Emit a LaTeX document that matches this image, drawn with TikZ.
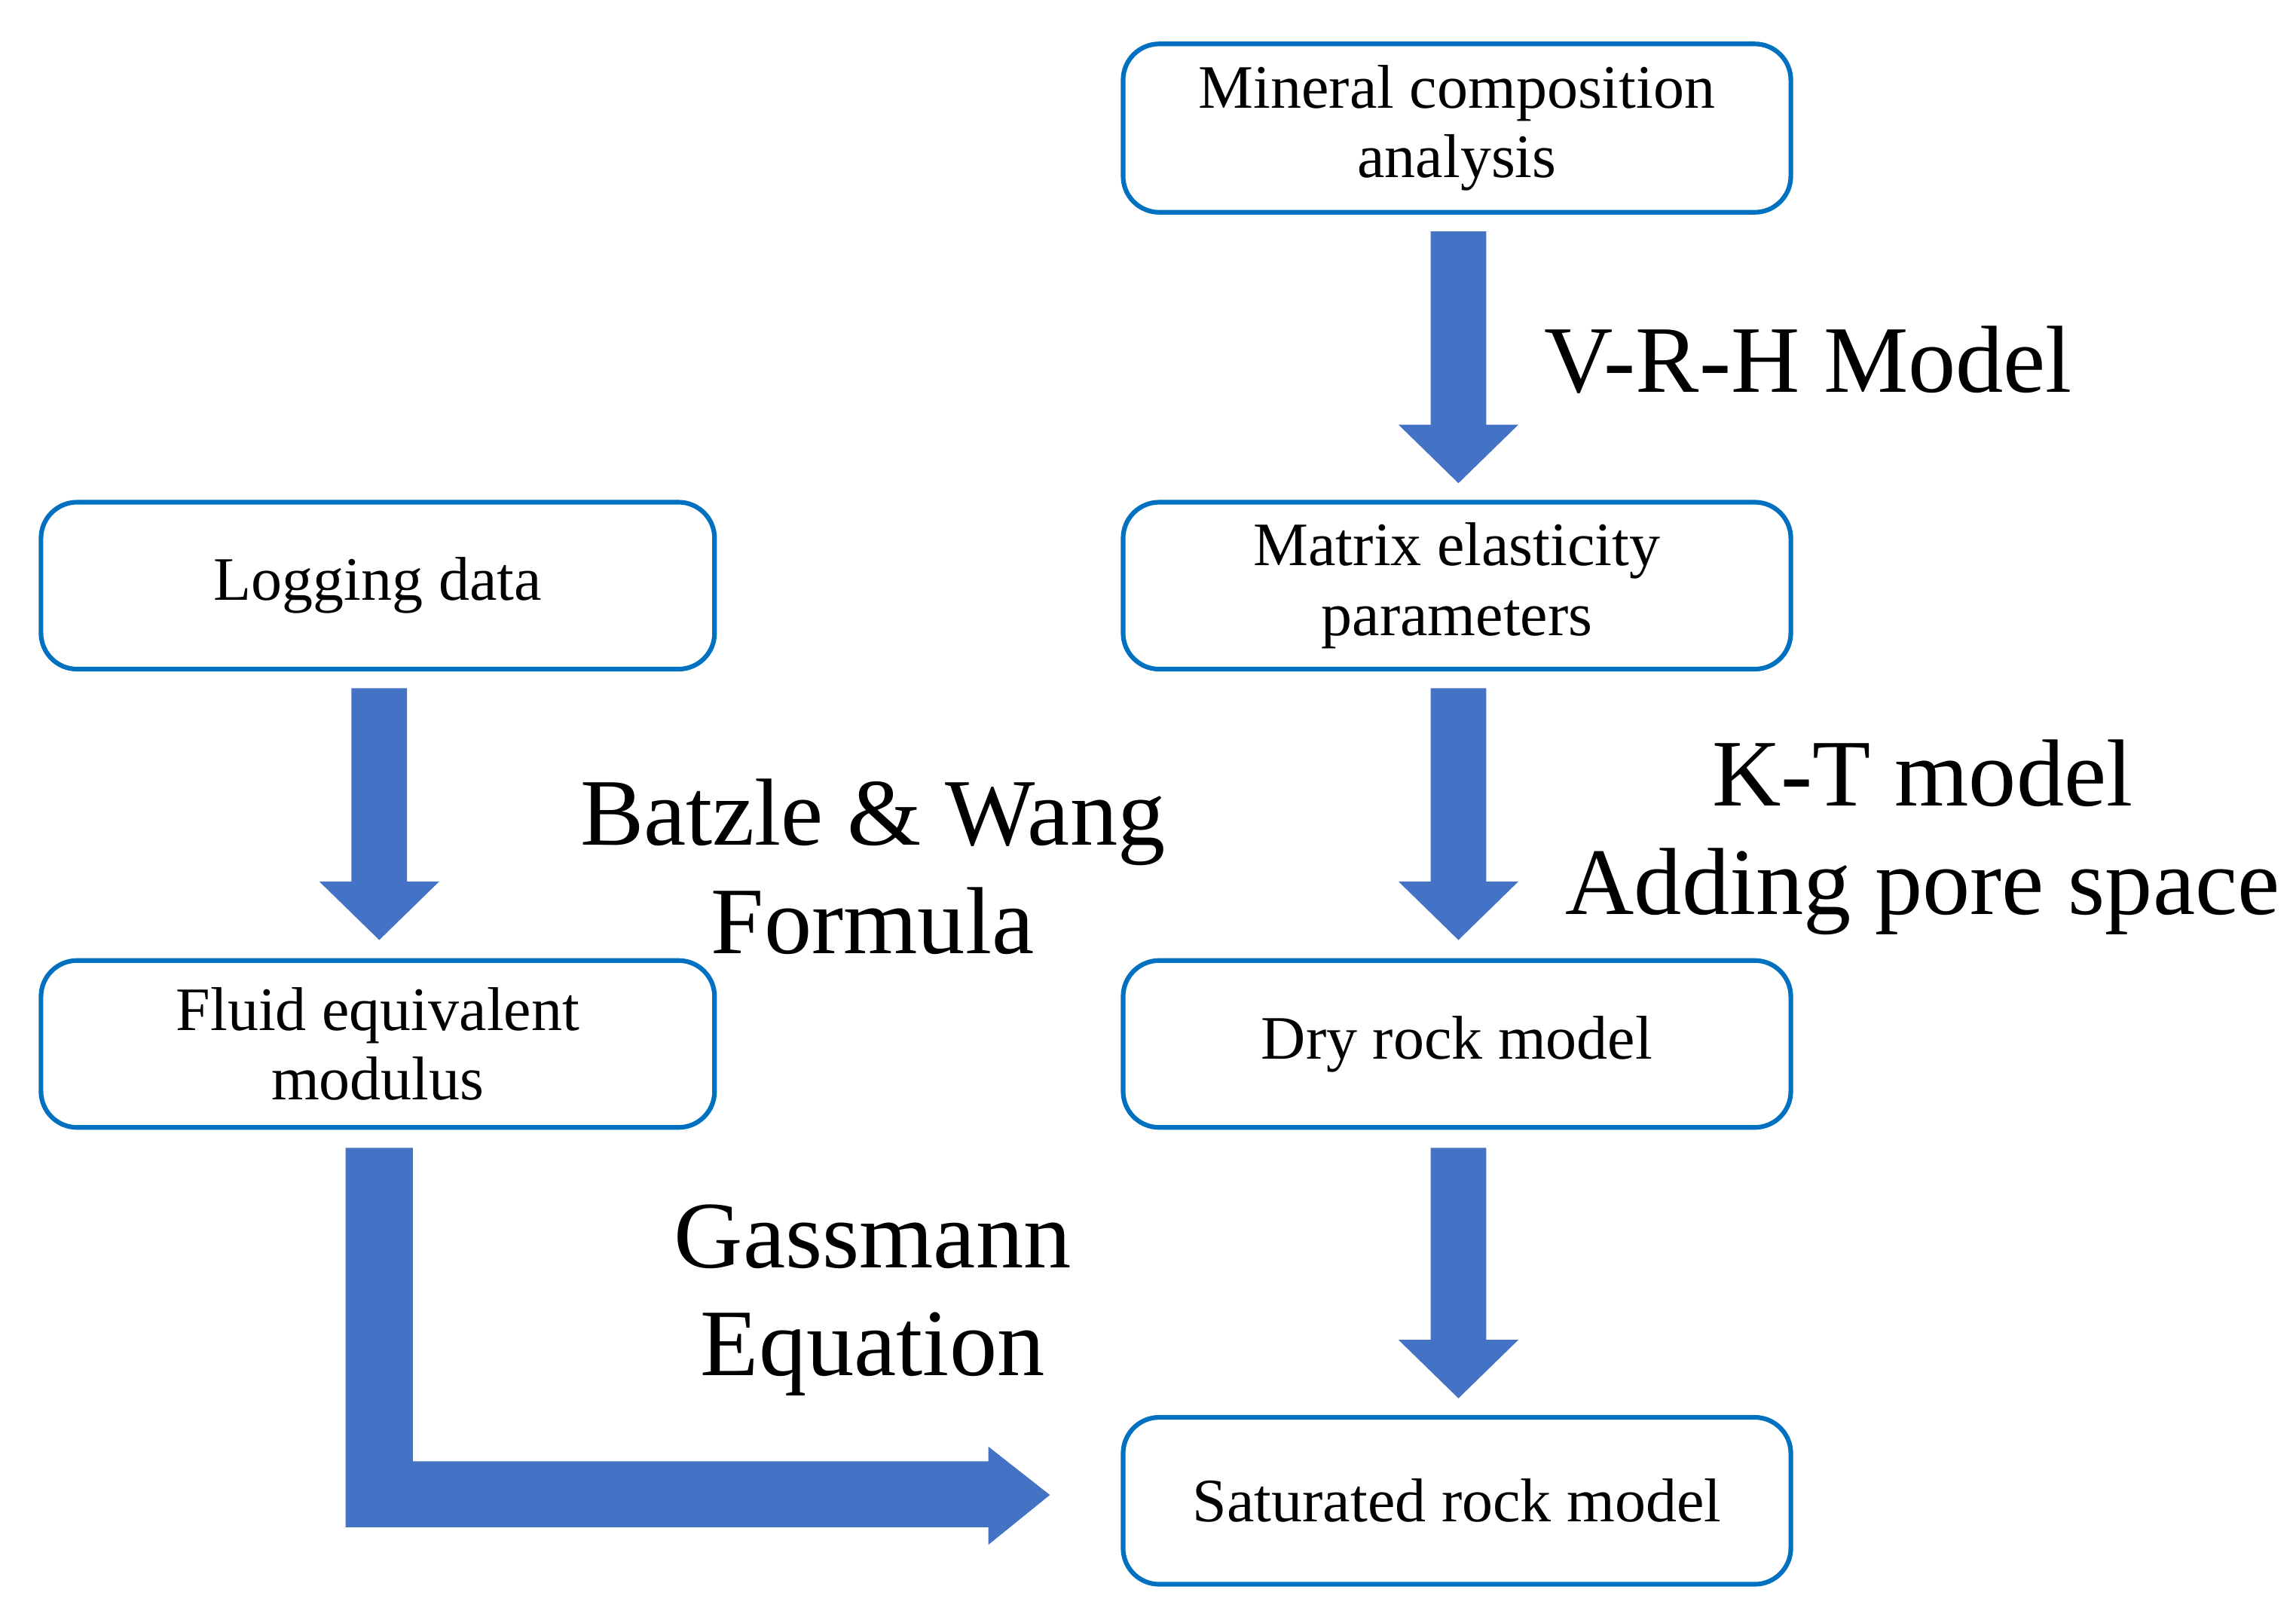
\documentclass[tikz,border=0pt]{standalone}
\usepackage{fontspec}
\setmainfont{Liberation Serif}
\begin{document}
\begin{tikzpicture}[x=0.01cm,y=-0.01cm,
fat/.style={fill={rgb,255:red,68;green,114;blue,196},draw=none},
lab/.style={font=\fontsize{18.5}{21}\selectfont,align=center}]
\useasboundingbox (0,0) rectangle (1568,1104);
\newcommand{\mybox}[6]{\draw[draw={rgb,255:red,0;green,112;blue,192},line width=0.9pt,rounded corners=7pt] (#1,#2) rectangle (#3,#4); \node[font=\fontsize{12}{13.5}\selectfont,align=center] (#5) at ({(#1+#3)/2},{(#2+#4)/2}) {#6};}
\mybox{767}{30}{1223}{145}{mineral}{Mineral composition\\analysis}
\mybox{767}{343}{1223}{457}{matrix}{Matrix elasticity\\parameters}
\mybox{767}{656}{1223}{770}{dry}{Dry rock model}
\mybox{767}{968}{1223}{1082}{sat}{Saturated rock model}
\mybox{28}{343}{488}{457}{log}{Logging data}
\mybox{28}{656}{488}{770}{fluid}{Fluid equivalent\\modulus}
\newcommand{\varr}[4]{\fill[fat] ({#1-19},#2) -- ({#1+19},#2) -- ({#1+19},#3) -- ({#1+41},#3) -- (#1,#4) -- ({#1-41},#3) -- ({#1-19},#3) -- cycle;}
\varr{996}{158}{290}{330}
\varr{996}{470}{602}{642}
\varr{996}{784}{915}{955}
\varr{259}{470}{602}{642}
\fill[fat] (236,784) -- (282,784) -- (282,998) -- (675,998) -- (675,988) -- (717,1021) -- (675,1055) -- (675,1043) -- (236,1043) -- cycle;
\node[lab,anchor=west] (vrh) at (1042,246) {V-R-H Model};
\node[lab] (kt) at (1313,572) {K-T model\\Adding pore space};
\node[lab] (bw) at (596,592) {Batzle \& Wang\\Formula};
\node[lab] (gs) at (596,888) {Gassmann\\Equation};
\end{tikzpicture}
\end{document}
